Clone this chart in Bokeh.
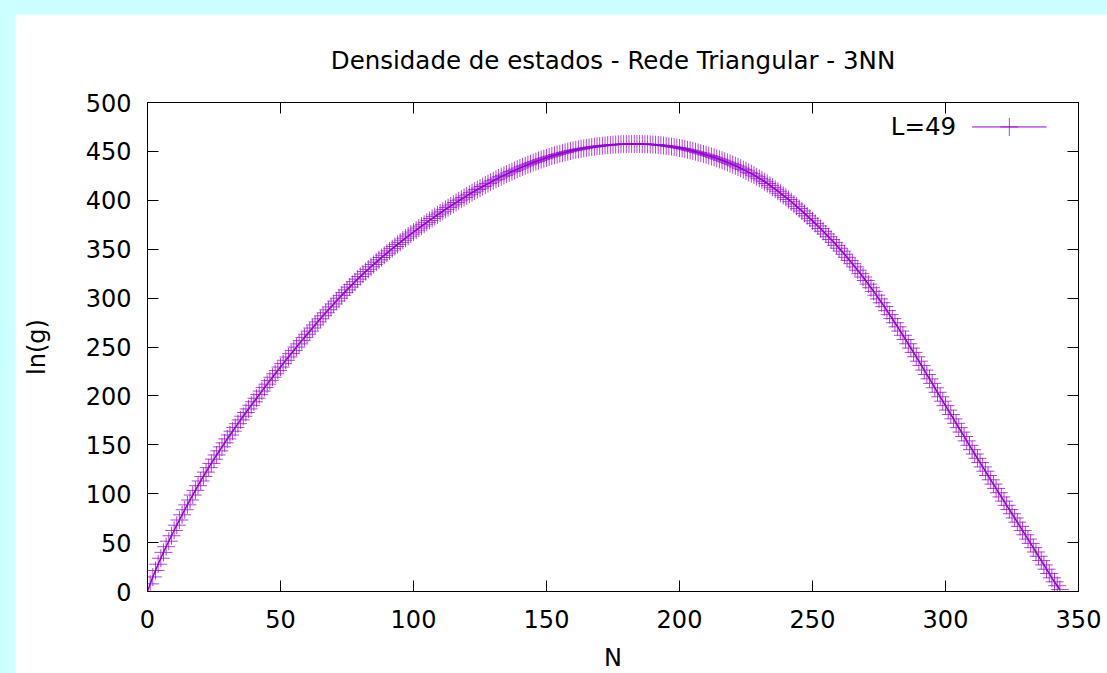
from bokeh.plotting import figure
from bokeh.models import Range1d, LinearAxis, FixedTicker, Label, ColumnDataSource
from bokeh.layouts import column
from bokeh.embed import file_html
from bokeh.resources import INLINE

# ---------------- data ----------------
title_text = "Densidade de estados - Rede Triangular - 3NN"
x_label = "N"
y_label = "ln(g)"
series_label = "L=49"

x_ticks = [0, 50, 100, 150, 200, 250, 300, 350]
y_ticks = [0, 50, 100, 150, 200, 250, 300, 350, 400, 450, 500]

N = list(range(344))
ln_g = [
    0.0, 7.8, 14.9, 21.5, 27.9, 34.0, 40.0, 45.8, 51.4, 57.0,            # 0-9
    62.4, 67.8, 73.1, 78.4, 83.6, 88.6, 93.6, 98.6, 103.4, 108.2,        # 10-19
    113.0, 117.6, 122.1, 126.6, 131.0, 135.3, 139.6, 143.8, 147.9, 152.0,  # 20-29
    156.0, 160.0, 163.9, 167.8, 171.6, 175.5, 179.2, 183.0, 186.7, 190.4,  # 30-39
    194.0, 197.6, 201.3, 204.9, 208.5, 212.0, 215.6, 219.1, 222.6, 226.0,  # 40-49
    229.5, 233.0, 236.4, 239.8, 243.2, 246.5, 249.9, 253.2, 256.5, 259.8,  # 50-59
    263.0, 266.2, 269.4, 272.6, 275.7, 278.8, 281.9, 285.0, 288.0, 291.0,  # 60-69
    294.0, 297.0, 299.9, 302.8, 305.6, 308.4, 311.2, 314.0, 316.7, 319.4,  # 70-79
    322.0, 324.6, 327.1, 329.5, 332.0, 334.4, 336.8, 339.1, 341.5, 343.8,  # 80-89
    346.0, 348.3, 350.5, 352.7, 354.9, 357.0, 359.2, 361.3, 363.4, 365.5,  # 90-99
    367.5, 369.5, 371.6, 373.6, 375.5, 377.5, 379.4, 381.4, 383.3, 385.1,  # 100-109
    387.0, 388.8, 390.7, 392.5, 394.2, 396.0, 397.7, 399.5, 401.2, 402.8,  # 110-119
    404.5, 406.2, 407.8, 409.4, 411.0, 412.5, 414.1, 415.6, 417.1, 418.6,  # 120-129
    420.0, 421.4, 422.8, 424.2, 425.5, 426.8, 428.1, 429.4, 430.6, 431.8,  # 130-139
    433.0, 434.2, 435.3, 436.4, 437.5, 438.6, 439.6, 440.6, 441.6, 442.6,  # 140-149
    443.5, 444.4, 445.2, 446.0, 446.8, 447.6, 448.3, 449.0, 449.7, 450.4,  # 150-159
    451.0, 451.6, 452.1, 452.6, 453.1, 453.6, 454.0, 454.4, 454.8, 455.2,  # 160-169
    455.5, 455.8, 456.1, 456.4, 456.6, 456.8, 457.0, 457.2, 457.3, 457.4,  # 170-179
    457.5, 457.6, 457.6, 457.6, 457.6, 457.6, 457.5, 457.4, 457.3, 457.2,  # 180-189
    457.0, 456.8, 456.6, 456.3, 456.0, 455.6, 455.3, 454.9, 454.4, 454.0,  # 190-199
    453.5, 453.0, 452.4, 451.7, 451.1, 450.4, 449.7, 448.9, 448.2, 447.3,  # 200-209
    446.5, 445.7, 444.8, 443.9, 442.9, 441.9, 440.9, 439.9, 438.8, 437.7,  # 210-219
    436.5, 435.3, 434.1, 432.8, 431.4, 430.1, 428.6, 427.2, 425.7, 424.1,  # 220-229
    422.5, 420.8, 419.0, 417.2, 415.3, 413.3, 411.4, 409.3, 407.2, 405.1,  # 230-239
    403.0, 400.8, 398.5, 396.2, 393.9, 391.5, 389.1, 386.6, 384.1, 381.6,  # 240-249
    379.0, 376.4, 373.8, 371.1, 368.3, 365.6, 362.7, 359.9, 357.0, 354.0,  # 250-259
    351.0, 348.0, 344.8, 341.7, 338.5, 335.2, 331.9, 328.5, 325.0, 321.6,  # 260-269
    318.0, 314.3, 310.6, 306.9, 303.0, 299.2, 295.2, 291.3, 287.2, 283.1,  # 270-279
    279.0, 274.8, 270.6, 266.3, 262.0, 257.7, 253.3, 248.9, 244.5, 240.0,  # 280-289
    235.5, 231.0, 226.4, 221.9, 217.4, 212.8, 208.3, 203.7, 199.1, 194.6,  # 290-299
    190.0, 185.5, 181.0, 176.5, 172.0, 167.5, 163.0, 158.5, 154.0, 149.5,  # 300-309
    145.0, 140.6, 136.2, 131.8, 127.4, 123.0, 118.6, 114.2, 109.8, 105.4,  # 310-319
    101.0, 96.7, 92.4, 88.1, 83.8, 79.5, 75.2, 70.9, 66.6, 62.3,          # 320-329
    58.0, 53.6, 49.2, 44.8, 40.4, 36.0, 31.6, 27.2, 22.8, 18.4,           # 330-339
    14.0, 9.9, 5.9, 2.0,                                                  # 340-343
]

# ---------------- styling ----------------
FONT = "DejaVu Sans"
PURPLE = "#9400d3"
PAGE_BG = "#ccffff"

p = figure(
    width=1092, height=672,
    output_backend="svg", toolbar_location=None,
    x_range=Range1d(0, 350), y_range=Range1d(0, 500),
    min_border_left=132, min_border_right=29,
    min_border_top=88, min_border_bottom=95,
    background_fill_color="white", border_fill_color="white",
)
p.outline_line_color = "black"
p.outline_line_width = 1
p.grid.visible = False

p.title.text = title_text
p.title.text_font = FONT
p.title.text_font_size = "24.5px"
p.title.text_font_style = "normal"
p.title.text_color = "black"
p.title.align = "center"
p.title.standoff = 55

def style_axis(ax, ticks, show_labels):
    ax.ticker = FixedTicker(ticks=ticks)
    ax.major_tick_in = 11
    ax.major_tick_out = 0
    ax.minor_tick_line_color = None
    ax.major_tick_line_color = "black"
    ax.axis_line_color = "black"
    ax.major_label_text_font = FONT
    ax.major_label_text_color = "black"
    ax.major_label_text_font_size = "24px"
    if not show_labels:
        ax.major_label_overrides = {t: "" for t in ticks}
        ax.major_label_standoff = 0

xa = p.xaxis[0]
ya = p.yaxis[0]
style_axis(xa, x_ticks, True)
style_axis(ya, y_ticks, True)
xa.major_label_standoff = 18
ya.major_label_standoff = 16
xa.axis_label = x_label
ya.axis_label = y_label
for ax in (xa, ya):
    ax.axis_label_text_font = FONT
    ax.axis_label_text_font_size = "24px"
    ax.axis_label_text_font_style = "normal"
    ax.axis_label_text_color = "black"
xa.axis_label_standoff = 13
ya.axis_label_standoff = 32

top_axis = LinearAxis()
style_axis(top_axis, x_ticks, False)
p.add_layout(top_axis, "above")
right_axis = LinearAxis()
style_axis(right_axis, y_ticks, False)
p.add_layout(right_axis, "right")

src = ColumnDataSource(dict(N=N, lng=ln_g))
p.line("N", "lng", source=src, line_color=PURPLE, line_width=1.5)
p.scatter("N", "lng", source=src, marker="cross", size=18,
          line_color=PURPLE, line_width=1, line_alpha=0.75)

# gnuplot-style key (text left of sample) in the top-right corner
key_y = 475
p.add_layout(Label(x=304, y=key_y, text=series_label, text_align="right",
                   text_baseline="middle", text_font=FONT,
                   text_font_size="24.5px", text_color="black"))
p.line([310, 338], [key_y, key_y], line_color=PURPLE, line_width=1)
p.scatter([324], [key_y], marker="cross", size=18, line_color=PURPLE,
          line_width=1, line_alpha=0.75)

p.margin = (14, 0, 0, 15)
page = column(p, width=1107, height=673,
              styles={"background-color": PAGE_BG, "overflow": "hidden"})

open("out.html", "w").write(file_html(page, INLINE))
